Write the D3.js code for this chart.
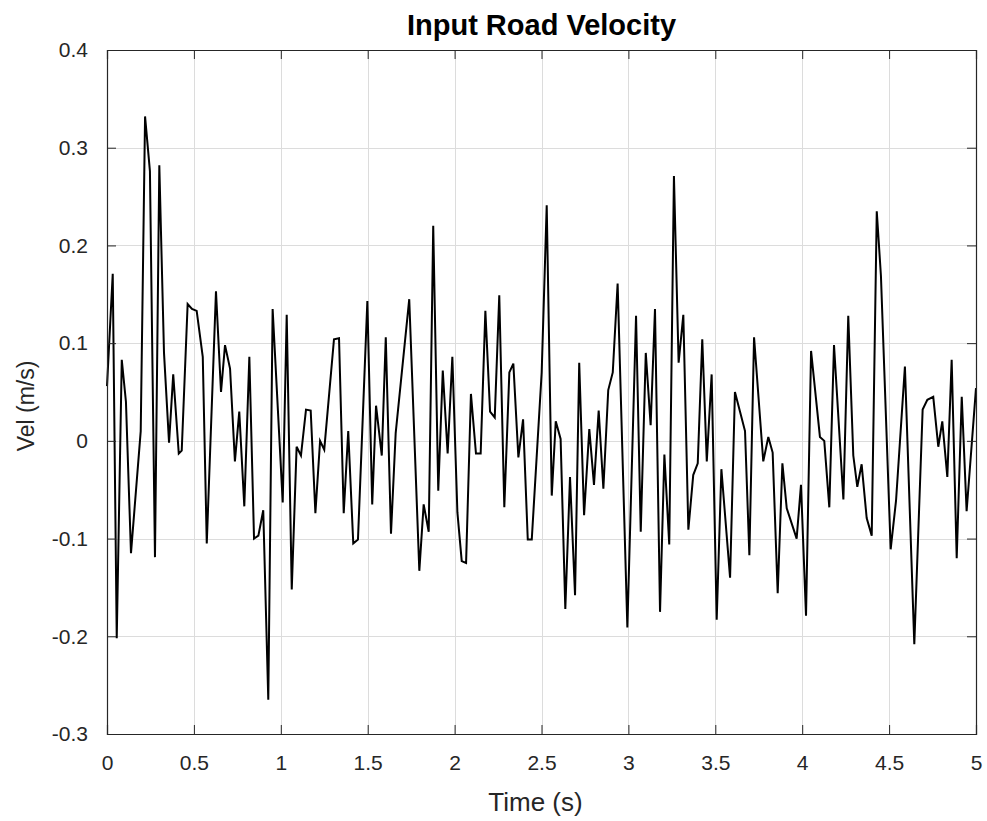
<!DOCTYPE html>
<html><head><meta charset="utf-8">
<script src="https://cdn.jsdelivr.net/npm/d3@7"></script>
<style>body{margin:0;background:#fff}svg{display:block}</style>
</head><body>
<svg id="c" width="987" height="821"></svg>
<script>
const times = [0.0,0.033,0.056,0.085,0.109,0.138,0.194,0.219,0.247,0.276,0.301,0.328,0.357,0.381,0.413,0.430,0.464,0.489,0.516,0.551,0.574,0.627,0.656,0.679,0.708,0.736,0.761,0.790,0.819,0.846,0.871,0.899,0.928,0.953,1.011,1.034,1.063,1.091,1.116,1.145,1.172,1.199,1.226,1.250,1.306,1.335,1.362,1.388,1.417,1.444,1.498,1.526,1.548,1.581,1.604,1.634,1.661,1.739,1.797,1.822,1.851,1.877,1.906,1.932,1.960,1.987,2.016,2.041,2.066,2.094,2.123,2.150,2.177,2.204,2.231,2.257,2.286,2.315,2.338,2.367,2.394,2.421,2.444,2.501,2.530,2.559,2.582,2.610,2.637,2.664,2.693,2.717,2.745,2.775,2.802,2.829,2.856,2.884,2.910,2.938,2.994,3.044,3.071,3.100,3.128,3.153,3.182,3.207,3.235,3.262,3.289,3.316,3.345,3.373,3.399,3.425,3.451,3.479,3.508,3.535,3.585,3.613,3.642,3.671,3.696,3.723,3.776,3.805,3.830,3.859,3.886,3.911,3.968,3.993,4.022,4.051,4.102,4.127,4.156,4.183,4.237,4.265,4.294,4.317,4.342,4.371,4.400,4.429,4.453,4.509,4.540,4.591,4.645,4.693,4.720,4.754,4.783,4.806,4.835,4.860,4.889,4.918,4.946,5.0];
const velocity = [0.056,0.171,-0.202,0.083,0.04,-0.115,0.01,0.332,0.276,-0.119,0.282,0.09,-0.002,0.068,-0.013,-0.01,0.14,0.135,0.133,0.086,-0.105,0.153,0.05,0.098,0.074,-0.021,0.03,-0.067,0.086,-0.1,-0.097,-0.071,-0.265,0.135,-0.063,0.129,-0.152,-0.006,-0.015,0.032,0.031,-0.074,0,-0.009,0.104,0.105,-0.074,0.01,-0.105,-0.101,0.143,-0.065,0.036,-0.015,0.106,-0.095,0.008,0.145,-0.133,-0.065,-0.093,0.22,-0.051,0.072,-0.013,0.086,-0.073,-0.123,-0.125,0.048,-0.013,-0.013,0.133,0.03,0.024,0.149,-0.068,0.07,0.079,-0.017,0.022,-0.101,-0.101,0.07,0.241,-0.056,0.02,0.002,-0.172,-0.037,-0.158,0.08,-0.076,0.012,-0.045,0.031,-0.049,0.052,0.07,0.161,-0.191,0.128,-0.093,0.09,0.016,0.135,-0.175,-0.014,-0.106,0.271,0.08,0.129,-0.091,-0.035,-0.023,0.104,-0.021,0.068,-0.183,-0.029,-0.14,0.05,0.03,0.01,-0.117,0.106,-0.021,0.004,-0.012,-0.156,-0.023,-0.069,-0.1,-0.045,-0.179,0.092,0.004,0.0,-0.068,0.098,-0.06,0.128,-0.015,-0.047,-0.024,-0.079,-0.097,0.235,0.169,-0.111,-0.061,0.076,-0.208,0.032,0.042,0.045,-0.006,0.02,-0.037,0.083,-0.12,0.045,-0.072,0.054];
const xTicks = [0,0.5,1,1.5,2,2.5,3,3.5,4,4.5,5];
const yTicks = [-0.3,-0.2,-0.1,0,0.1,0.2,0.3,0.4];
const titleText = "Input Road Velocity";
const xLabelText = "Time (s)";
const yLabelText = "Vel (m/s)";

const L=107,R=976,T=50,B=734;
const svg=d3.select("#c");
const x=d3.scaleLinear().domain([0,5]).range([L,R]);
const y=d3.scaleLinear().domain([-0.3,0.4]).range([B,T]);
const font="'Liberation Sans', Arial, Helvetica, sans-serif";
const axisCol="#262626";

// grid
const g=svg.append("g");
g.selectAll(".gx").data(xTicks).join("line")
  .attr("x1",d=>Math.round(x(d))+0.5).attr("x2",d=>Math.round(x(d))+0.5)
  .attr("y1",T).attr("y2",B).attr("stroke","#dcdcdc").attr("stroke-width",1);
g.selectAll(".gy").data(yTicks).join("line")
  .attr("y1",d=>Math.round(y(d))+0.5).attr("y2",d=>Math.round(y(d))+0.5)
  .attr("x1",L).attr("x2",R).attr("stroke","#dcdcdc").attr("stroke-width",1);

// line
const pts=times.map((t,i)=>[t,velocity[i]]);
svg.append("path").datum(pts)
  .attr("d",d3.line().x(d=>x(d[0])).y(d=>y(d[1])))
  .attr("fill","none").attr("stroke","#000").attr("stroke-width",2).attr("stroke-linejoin","miter");

// axes
const tl=-9;
const fmt=d=>String(d);
const axB=svg.append("g").attr("transform",`translate(0,${B})`)
  .call(d3.axisBottom(x).tickValues(xTicks).tickSize(tl).tickPadding(21).tickFormat(fmt));
const axT=svg.append("g").attr("transform",`translate(0,${T})`)
  .call(d3.axisTop(x).tickValues(xTicks).tickSize(tl).tickFormat(""));
const axL=svg.append("g").attr("transform",`translate(${L},0)`)
  .call(d3.axisLeft(y).tickValues(yTicks).tickSize(tl).tickPadding(19).tickFormat(fmt));
const axR=svg.append("g").attr("transform",`translate(${R},0)`)
  .call(d3.axisRight(y).tickValues(yTicks).tickSize(tl).tickFormat(""));
[axB,axT,axL,axR].forEach(a=>{
  a.selectAll("path").attr("stroke",axisCol).attr("stroke-width",1.2);
  a.selectAll("line").attr("stroke",axisCol).attr("stroke-width",1);
  a.selectAll("text").attr("fill",axisCol).style("font-family",font).style("font-size","21px");
});

svg.append("text").attr("x",(L+R)/2).attr("y",35).attr("text-anchor","middle")
  .style("font-family",font).style("font-size","29px").style("font-weight","bold").attr("fill","#000")
  .text(titleText);
svg.append("text").attr("x",(L+R)/2-6).attr("y",811).attr("text-anchor","middle")
  .style("font-family",font).style("font-size","26px").attr("fill",axisCol).text(xLabelText);
svg.append("text").attr("transform",`translate(34,${(T+B)/2+14}) rotate(-90)`).attr("text-anchor","middle")
  .style("font-family",font).style("font-size","23px").attr("fill",axisCol).text(yLabelText);
</script>
</body></html>
